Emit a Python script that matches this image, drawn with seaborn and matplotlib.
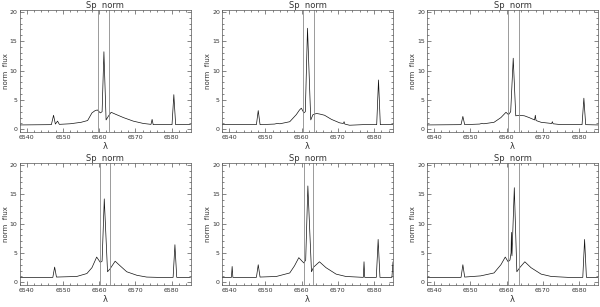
import numpy as np
import pandas as pd
import seaborn as sns
import matplotlib
matplotlib.use("Agg")
import matplotlib.pyplot as plt
from matplotlib.ticker import MultipleLocator

sns.set_style("ticks")
plt.rcParams['font.family'] = ['DejaVu Sans']

# spectra (wavelength knots, normalised flux)
wave_1 = [6538.0, 6546.8, 6547.4, 6547.9, 6548.5, 6549.0, 6552.0, 6555.0, 6556.8, 6558.0, 6558.9, 6559.5,
          6560.3, 6560.8, 6561.3, 6561.9, 6562.6, 6563.3, 6564.4, 6566.7, 6569.4, 6572.2, 6574.3,
          6574.6, 6574.9, 6577.0, 6580.1, 6580.6, 6581.1, 6585.2]
flux_1 = [0.75, 0.8, 2.4, 0.9, 1.4, 0.85, 0.95, 1.2, 1.5, 2.8, 3.2, 3.3,
          2.8, 3.0, 13.2, 1.6, 2.3, 2.9, 2.6, 2.0, 1.4, 1.0, 0.85,
          1.7, 0.8, 0.8, 0.8, 5.9, 0.8, 0.8]

wave_2 = [6538.0, 6547.5, 6548.0, 6548.5, 6552.5, 6553.2, 6554.0, 6556.7, 6558.5, 6559.4, 6559.9, 6560.6,
          6561.0, 6561.6, 6562.5, 6563.1, 6564.1, 6565.0, 6566.3, 6568.2, 6570.5, 6571.5, 6571.7,
          6571.9, 6573.2, 6576.9, 6580.7, 6581.2, 6581.7, 6585.2]
flux_2 = [0.8, 0.8, 3.2, 0.8, 0.9, 1.0, 0.95, 1.3, 2.5, 3.3, 3.6, 2.8,
          3.0, 17.2, 1.6, 2.5, 2.7, 2.6, 2.4, 1.7, 1.1, 1.0, 1.3,
          0.9, 0.7, 0.8, 0.8, 8.4, 0.8, 0.8]

wave_3 = [6538.0, 6547.4, 6547.9, 6548.4, 6552.5, 6553.1, 6553.7, 6556.5, 6558.4, 6559.8, 6560.5, 6561.1,
          6561.8, 6562.5, 6563.5, 6564.9, 6566.2, 6567.7, 6567.9, 6568.1, 6569.5, 6572.4, 6572.6,
          6572.8, 6575.0, 6580.8, 6581.3, 6581.8, 6585.2]
flux_3 = [0.75, 0.8, 2.2, 0.8, 0.9, 1.0, 0.95, 1.2, 2.0, 2.9, 2.5, 3.0,
          12.1, 2.3, 2.4, 2.3, 2.0, 1.6, 2.4, 1.5, 1.2, 1.0, 1.3,
          0.95, 0.8, 0.8, 5.3, 0.8, 0.75]

wave_4 = [6538.0, 6547.2, 6547.7, 6548.2, 6553.8, 6556.6, 6558.0, 6559.3, 6560.3, 6560.8, 6561.4, 6562.3,
          6563.0, 6564.4, 6565.8, 6567.6, 6570.4, 6573.1, 6576.0, 6580.4, 6580.9, 6581.4, 6585.2]
flux_4 = [0.85, 0.85, 2.6, 0.9, 1.0, 1.5, 2.5, 4.3, 3.4, 3.6, 14.2, 1.8,
          2.3, 3.6, 2.8, 1.8, 1.2, 0.9, 0.85, 0.85, 6.4, 0.85, 0.85]

wave_5 = [6538.0, 6540.6, 6540.8, 6541.0, 6547.5, 6548.0, 6548.5, 6553.0, 6556.7, 6558.0, 6559.2, 6560.1,
          6560.6, 6561.1, 6561.7, 6562.7, 6563.3, 6564.9, 6566.7, 6569.5, 6572.2, 6577.0, 6577.2,
          6577.4, 6580.6, 6581.1, 6581.6, 6584.9, 6585.2]
flux_5 = [0.85, 0.85, 2.7, 0.85, 0.85, 3.0, 0.9, 1.0, 1.6, 2.8, 4.2, 3.6,
          3.3, 3.8, 16.4, 1.8, 2.6, 3.5, 2.5, 1.4, 1.0, 0.85, 3.5,
          0.85, 0.85, 7.3, 0.85, 0.85, 3.5]

wave_6 = [6538.0, 6547.4, 6547.9, 6548.4, 6552.8, 6556.5, 6558.4, 6559.6, 6560.4, 6560.9, 6561.2, 6561.3,
          6561.45, 6562.1, 6562.8, 6563.6, 6565.0, 6566.7, 6569.5, 6572.3, 6576.9, 6581.0, 6581.5,
          6582.0, 6585.2]
flux_6 = [0.85, 0.85, 3.0, 0.9, 1.1, 1.6, 3.0, 4.3, 3.5, 3.8, 5.0, 8.5,
          4.5, 16.1, 1.8, 2.5, 3.5, 2.5, 1.4, 1.0, 0.85, 0.85, 7.3,
          0.85, 0.85]

# the two vertical markers in each panel
marks = [(6559.8, 6562.7), (6560.3, 6563.4), (6560.4, 6563.3),
         (6560.3, 6563.1), (6560.7, 6563.2), (6560.4, 6563.3)]

spectra = [(wave_1, flux_1), (wave_2, flux_2), (wave_3, flux_3),
           (wave_4, flux_4), (wave_5, flux_5), (wave_6, flux_6)]

fig = plt.figure(figsize=(6, 3.07), dpi=100)
W, H = 600.0, 307.0
lefts = [19.5, 222, 427]
tops = [10, 163]
aw, ah = 171, 122

txt = '#333333'
for i, (w, f) in enumerate(spectra):
    r, c = divmod(i, 3)
    ax = fig.add_axes([lefts[c] / W, 1 - (tops[r] + ah) / H, aw / W, ah / H])
    df = pd.DataFrame({'wave': w, 'flux': f})
    sns.lineplot(data=df, x='wave', y='flux', ax=ax, color='#111111', lw=0.5, estimator=None)
    for m in marks[i]:
        ax.axvline(m, color='#8a8a8a', lw=0.6)
    ax.set_xlim(6538, 6585.2)
    ax.set_ylim(-0.45, 20.3)
    ax.xaxis.set_major_locator(MultipleLocator(10))
    ax.xaxis.set_minor_locator(MultipleLocator(2))
    ax.yaxis.set_major_locator(MultipleLocator(5))
    ax.yaxis.set_minor_locator(MultipleLocator(1))
    ax.tick_params(which='both', direction='in', top=True, right=True, colors='#555555',
                   labelcolor=txt, labelsize=4.5, width=0.5)
    ax.tick_params(axis='x', pad=2.5)
    ax.tick_params(axis='y', pad=1.5)
    ax.tick_params(which='major', length=3)
    ax.tick_params(which='minor', length=1.5)
    for s in ax.spines.values():
        s.set_linewidth(0.5)
        s.set_color('#555555')
    ax.set_title('Sp  norm', fontsize=6, color=txt, pad=1.5)
    ax.set_xlabel('λ', fontsize=6, color=txt, labelpad=1)
    ax.set_ylabel('norm  flux', fontsize=5, color=txt, labelpad=0.5)

fig.savefig('out.png', dpi=100)
